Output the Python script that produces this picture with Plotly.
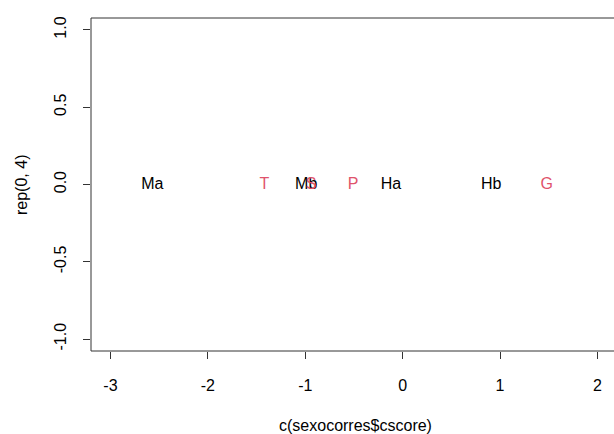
import plotly.graph_objects as go

row_labels = ["Ma", "Mb", "Ha", "Hb"]
row_scores = [-2.57, -0.99, -0.12, 0.91]
col_labels = ["T", "S", "P", "G"]
col_scores = [-1.42, -0.94, -0.51, 1.48]
y_zero = [0, 0, 0, 0]

x_ticks = [-3, -2, -1, 0, 1, 2]
x_tick_text = ["-3", "-2", "-1", "0", "1", "2"]
y_ticks = [-1.0, -0.5, 0.0, 0.5, 1.0]
y_tick_text = ["-1.0", "-0.5", "0.0", "0.5", "1.0"]

font = "Liberation Sans, Arial, sans-serif"

fig = go.Figure()
fig.add_trace(go.Scatter(x=row_scores, y=y_zero, mode="text", text=row_labels,
                         textfont=dict(family=font, size=16, color="black"),
                         textposition="middle center", showlegend=False))
fig.add_trace(go.Scatter(x=col_scores, y=y_zero, mode="text", text=col_labels,
                         textfont=dict(family=font, size=16, color="#DF536B"),
                         textposition="middle center", showlegend=False))

line_style = dict(color="#333", width=1)
fig.update_layout(
    width=614, height=434,
    margin=dict(l=91, r=0, t=18, b=83, autoexpand=False),
    paper_bgcolor="white", plot_bgcolor="white",
    font=dict(family=font, size=16, color="black"),
    xaxis=dict(range=[-3.2, 2.17], tickvals=x_ticks, ticktext=x_tick_text,
               ticks="outside", ticklen=7, automargin=False,
               tickcolor="#333", showgrid=False, zeroline=False, showline=False,
               ticklabelstandoff=13, tickfont=dict(size=16)),
    yaxis=dict(range=[-1.077, 1.077], tickvals=y_ticks, ticktext=y_tick_text,
               ticks="outside", ticklen=7, tickcolor="#333", tickangle=-90,
               automargin=False,
               showgrid=False, zeroline=False, showline=False,
               ticklabelstandoff=11, tickfont=dict(size=16)),
    shapes=[
        dict(type="line", xref="paper", yref="paper", x0=0, x1=1.2, y0=0, y1=0, line=line_style),
        dict(type="line", xref="paper", yref="paper", x0=0, x1=1.2, y0=1, y1=1, line=line_style),
        dict(type="line", xref="paper", yref="paper", x0=0, x1=0, y0=0, y1=1, line=line_style),
    ],
    annotations=[
        dict(text="c(sexocorres$cscore)", xref="paper", yref="paper",
             x=(355 - 91) / 523, y=-(425 - 351) / 333, showarrow=False,
             font=dict(size=16), xanchor="center", yanchor="middle"),
        dict(text="rep(0, 4)", xref="paper", yref="paper",
             x=-(91 - 21) / 523, y=(351 - 185) / 333, showarrow=False,
             font=dict(size=16), textangle=-90, xanchor="center", yanchor="middle"),
    ],
)
fig.write_html("out.html", config={"displayModeBar": False},
               post_script="document.body.style.margin='0';document.body.style.overflow='hidden';")
